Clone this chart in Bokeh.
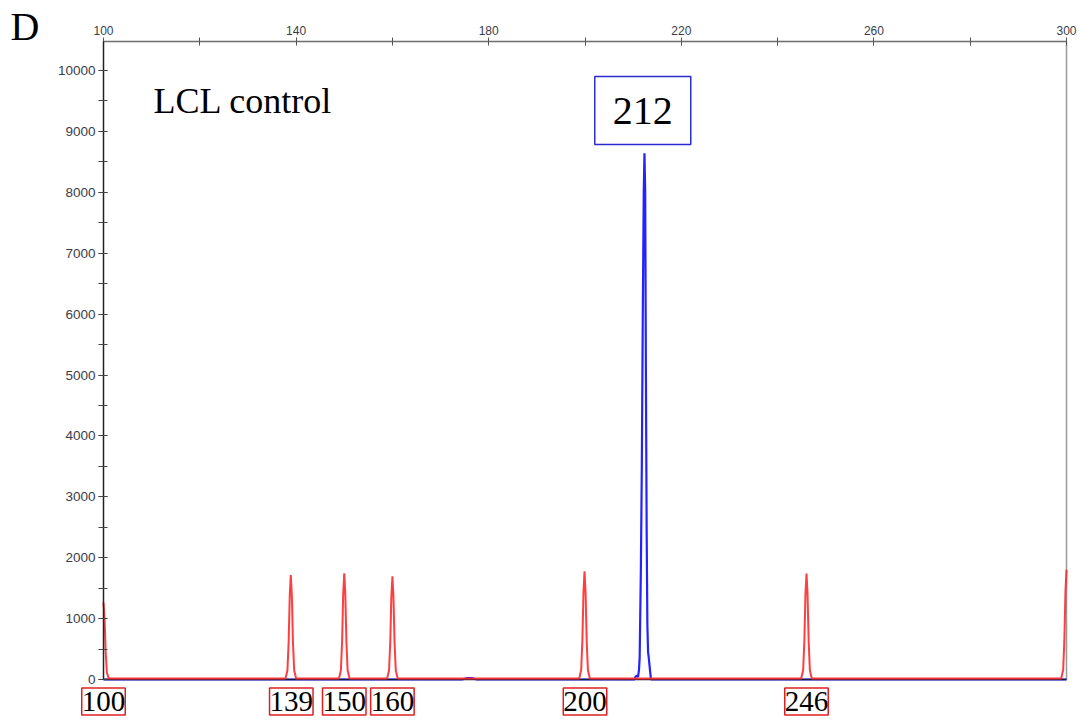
from bokeh.plotting import figure
from bokeh.models import (LinearAxis, FixedTicker, SingleIntervalTicker, Range1d, Label)
from bokeh.embed import file_html
from bokeh.resources import INLINE

# ---------------- data ----------------
# size standard (red) trace: base pairs vs RFU
red_bp = [100.0, 100.22, 100.45, 100.7, 101.1,
          137.8, 138.2, 138.45, 138.68, 138.9, 139.12, 139.35, 139.6, 140.0,
          148.9, 149.3, 149.55, 149.78, 150.0, 150.22, 150.45, 150.7, 151.1,
          158.9, 159.3, 159.55, 159.78, 160.0, 160.22, 160.45, 160.7, 161.1,
          198.8, 199.2, 199.45, 199.68, 199.9, 200.12, 200.35, 200.6, 201.0,
          244.9, 245.3, 245.55, 245.78, 246.0, 246.22, 246.45, 246.7, 247.1,
          298.9, 299.3, 299.55, 299.78, 300.0]
red_rfu = [1250, 1000, 440, 100, 0,
           0, 136, 595, 1360, 1700, 1360, 595, 136, 0,
           0, 138, 606, 1384, 1730, 1384, 606, 138, 0,
           0, 134, 588, 1344, 1680, 1344, 588, 134, 0,
           0, 141, 616, 1408, 1760, 1408, 616, 141, 0,
           0, 138, 604, 1380, 1725, 1380, 604, 138, 0,
           0, 143, 627, 1432, 1790]

# sample (blue) trace
blue_bp = [100.0, 174.5, 175.5, 176.5, 177.5, 209.0, 210.3, 210.5, 210.8, 211.0,
           211.2, 211.35, 211.6, 211.8, 212.0, 212.2, 212.35, 212.5, 212.65,
           212.8, 212.95, 213.1, 213.25, 213.5, 213.7, 300.0]
blue_rfu = [0, 0, 25, 25, 0, 0, 0, 50, 60, 40,
            150, 350, 1800, 3500, 6000, 8000, 8640, 8000, 5000,
            2500, 900, 450, 350, 150, 0, 0]

size_labels = [100, 139, 150, 160, 200, 246]
allele_label = 212
top_ticks = [100, 140, 180, 220, 260, 300]
top_minor = [120, 160, 200, 240, 280]
panel_letter = "D"
sample_name = "LCL control"

X_MIN, X_MAX = 100, 300
Y_TOP = 10476

# ---------------- figure ----------------
p = figure(width=1086, height=725, output_backend="svg", toolbar_location=None,
           x_range=Range1d(78.61, 304.15), y_range=Range1d(-755.3, 11149.4),
           x_axis_location=None, y_axis_location=None,
           min_border_left=0, min_border_right=0,
           min_border_top=0, min_border_bottom=0)
p.outline_line_color = None
p.grid.visible = False
p.background_fill_color = "white"
p.border_fill_color = "white"

label_color = "#3a3d4a"

top = LinearAxis(ticker=FixedTicker(ticks=top_ticks, minor_ticks=top_minor),
                 fixed_location=Y_TOP, bounds=(X_MIN, X_MAX))
top.axis_line_color = "#6e6e6e"
top.axis_line_width = 1.5
top.major_tick_line_color = "#555555"
top.minor_tick_line_color = "#555555"
top.major_tick_in = 4
top.major_tick_out = 4
top.minor_tick_in = 4
top.minor_tick_out = 4
top.major_label_text_font = "Liberation Sans"
top.major_label_text_font_size = "12px"
top.major_label_text_color = label_color
top.major_label_standoff = 3
p.add_layout(top, "above")

left = LinearAxis(ticker=SingleIntervalTicker(interval=1000, num_minor_ticks=2),
                  fixed_location=X_MIN, bounds=(0, Y_TOP))
left.axis_line_color = "#222222"
left.axis_line_width = 1.5
left.major_tick_line_color = "#444444"
left.minor_tick_line_color = "#444444"
left.major_tick_in = 4
left.major_tick_out = 5
left.minor_tick_in = 4
left.minor_tick_out = 5
left.major_label_text_font = "Liberation Sans"
left.major_label_text_font_size = "13.5px"
left.major_label_text_color = label_color
left.major_label_standoff = 3
p.add_layout(left, "left")

# right edge of the frame
p.segment(x0=[X_MAX], y0=[0], x1=[X_MAX], y1=[Y_TOP], line_color="#9a9a9a", line_width=1.5)

# traces
p.line(blue_bp, blue_rfu, line_color="#2323ff", line_width=2.2)
p.segment(x0=[X_MIN], y0=[0], x1=[X_MAX], y1=[0], line_color="#1c1c3a", line_width=1.5)
p.line(red_bp, [v + 15 for v in red_rfu], line_color="#ff2a2a", line_width=2, line_alpha=0.9)

# texts
p.add_layout(Label(x=80.7, y=10722, text=panel_letter, text_font="Liberation Serif",
                   text_font_size="40px", text_color="black", text_baseline="middle",
                   text_align="left"))
p.add_layout(Label(x=110.4, y=9491, text=sample_name, text_font="Liberation Serif",
                   text_font_size="36px", text_color="black", text_baseline="alphabetic",
                   text_align="left"))
p.add_layout(Label(x=allele_label, y=9343, text=str(allele_label), text_font="Liberation Serif",
                   text_font_size="40px", text_color="black", text_baseline="middle",
                   text_align="center", border_line_color="#2a2ad0", border_line_width=1.5,
                   background_fill_color="white", padding=(18, 21)))
for s in size_labels:
    p.add_layout(Label(x=s, y=-361, text=str(s), text_font="Liberation Serif",
                       text_font_size="29px", text_color="black", text_baseline="middle",
                       text_align="center", border_line_color="#e02020", border_line_width=1.5,
                       background_fill_color="white", padding=(0, 4)))

open("out.html", "w").write(file_html(p, INLINE))
